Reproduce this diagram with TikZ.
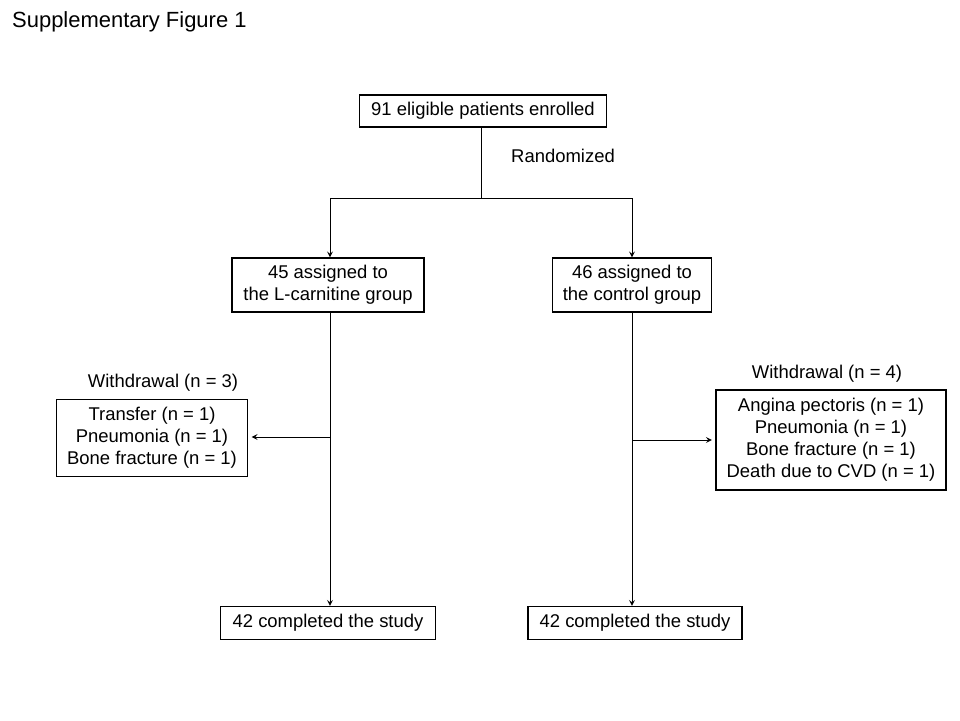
\documentclass[tikz,border=0pt]{standalone}
\usepackage{fontspec}
\setmainfont{Liberation Sans}
\usetikzlibrary{positioning}

\tikzset{
  box/.style={draw, line width=0.6pt, fill=white, align=center, inner sep=3pt, font=\fontsize{10.5}{12.5}\selectfont},
  lbl/.style={font=\fontsize{10.5}{12.5}\selectfont},
  arr/.style={-stealth, line width=0.5pt}
}

\begin{document}
\begin{tikzpicture}[x=0.02cm, y=-0.02cm]
  \useasboundingbox[fill=white] (0,0) rectangle (960,720);
  % Title
  \node[anchor=west, font=\fontsize{12.5}{14}\selectfont] (title) at (6,22) {Supplementary Figure 1};
  % Boxes
  \node[box, minimum width=247*0.02cm, minimum height=32*0.02cm] (enrol) at (483,111) {91 eligible patients enrolled};
  \node[lbl] (rand) at (563,156) {Randomized};
  \node[box, minimum width=192*0.02cm, minimum height=54*0.02cm] (carn) at (328,285) {45 assigned to\\the L-carnitine group};
  \node[box, minimum width=159*0.02cm, minimum height=54*0.02cm] (ctrl) at (632,285) {46 assigned to\\the control group};
  \node[box, minimum width=215*0.02cm, minimum height=33*0.02cm] (doneL) at (328,623) {42 completed the study};
  \node[box, minimum width=214*0.02cm, minimum height=33*0.02cm] (doneR) at (635,623) {42 completed the study};
  \node[lbl] (wdL) at (163,383) {Withdrawal (n = 3)};
  \node[box, minimum width=191*0.02cm, minimum height=77*0.02cm] (wboxL) at (152,438) {Transfer (n = 1)\\Pneumonia (n = 1)\\Bone fracture (n = 1)};
  \node[lbl] (wdR) at (827,374) {Withdrawal (n = 4)};
  \node[box, minimum width=230*0.02cm, minimum height=100*0.02cm] (wboxR) at (831,440) {Angina pectoris (n = 1)\\Pneumonia (n = 1)\\Bone fracture (n = 1)\\Death due to CVD (n = 1)};
  % Connectors
  \coordinate (split) at (481,198);
  \coordinate (splitL) at (330,198);
  \coordinate (splitR) at (632,198);
  \coordinate (midL) at (330,437);
  \coordinate (midR) at (632,440);
  \draw[line width=0.5pt] (enrol.south -| split) -- (split);
  \draw[line width=0.5pt] (splitL) -- (splitR);
  \draw[arr] (splitL) -- (splitL |- carn.north);
  \draw[arr] (splitR) -- (splitR |- ctrl.north);
  \draw[arr] (carn.south -| midL) -- (midL |- doneL.north);
  \draw[arr] (ctrl.south -| midR) -- (midR |- doneR.north);
  \draw[arr] (midL) -- ([xshift=2]wboxL.east |- midL);
  \draw[arr] (midR) -- ([xshift=-2]wboxR.west |- midR);
\end{tikzpicture}
\end{document}
